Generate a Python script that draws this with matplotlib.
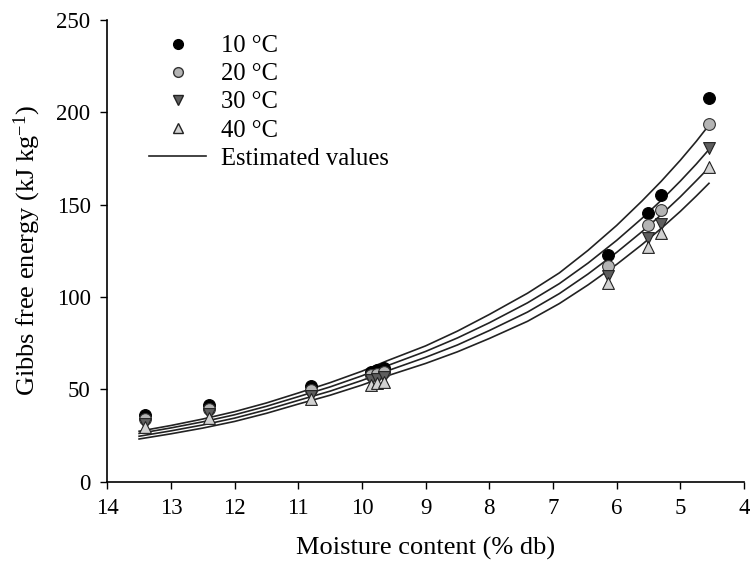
import matplotlib
matplotlib.use("Agg")
import matplotlib.pyplot as plt
from matplotlib.lines import Line2D

plt.rcParams['font.family'] = ['Liberation Serif', 'DejaVu Serif']
plt.rcParams['mathtext.fontset'] = 'custom'
plt.rcParams['mathtext.rm'] = 'Liberation Serif'
plt.rcParams['mathtext.default'] = 'regular'

# Experimental data (moisture content % db, Gibbs free energy kJ/kg)
moisture = [13.4, 12.4, 10.8, 9.86, 9.77, 9.66, 6.14, 5.50, 5.31, 4.55]
g10 = [36.0, 41.4, 52.0, 59.5, 60.4, 61.3, 122.7, 145.6, 155.2, 207.6]
g20 = [34.0, 39.5, 49.5, 57.5, 58.3, 59.3, 116.7, 139.0, 147.0, 193.7]
g30 = [31.0, 36.5, 46.5, 55.0, 55.5, 56.5, 111.3, 131.7, 139.5, 180.5]
g40 = [29.4, 34.5, 45.0, 52.5, 53.3, 54.0, 107.4, 127.2, 134.4, 170.5]

# Estimated (model) curves
m_est = [13.5, 13.0, 12.5, 12.0, 11.5, 11.0, 10.5, 10.0, 9.6, 9.0, 8.5, 8.0, 7.4, 6.9, 6.45, 6.0, 5.6, 5.3, 5.0, 4.75, 4.55]
e10 = [27.3, 30.4, 33.9, 37.9, 42.6, 48.0, 53.6, 59.8, 65.5, 73.5, 81.5, 90.5, 102.0, 113.0, 125.2, 138.7, 152.0, 162.6, 174.0, 184.2, 193.0]
e20 = [26.1, 29.1, 32.4, 36.2, 40.8, 46.0, 51.3, 57.3, 62.8, 70.5, 77.8, 86.0, 96.8, 107.2, 118.3, 130.6, 142.6, 152.3, 162.7, 171.9, 179.8]
e30 = [24.6, 27.5, 30.7, 34.4, 38.9, 44.0, 49.0, 54.8, 60.0, 67.3, 74.0, 81.8, 91.8, 101.8, 112.4, 124.1, 135.4, 144.5, 154.2, 162.9, 170.0]
e40 = [23.1, 25.9, 29.0, 32.6, 37.0, 42.0, 46.8, 52.3, 57.3, 64.0, 70.3, 77.5, 86.8, 96.4, 106.5, 117.6, 128.4, 137.1, 146.3, 154.6, 161.5]

labels = ['10 °C', '20 °C', '30 °C', '40 °C', 'Estimated values']
xticks = [14, 13, 12, 11, 10, 9, 8, 7, 6, 5, 4]
yticks = [0, 50, 100, 150, 200, 250]

fig = plt.figure(figsize=(7.5, 5.66), dpi=100)
ax = fig.add_axes([0.143, 0.149, 0.849, 0.816])

for e in (e10, e20, e30, e40):
    ax.plot(m_est, e, color='#222222', lw=1.2, zorder=2)

ms = 72
ax.scatter(moisture, g10, s=ms, marker='o', facecolor='black', edgecolor='black', lw=0.8, zorder=3)
ax.scatter(moisture, g20, s=ms, marker='o', facecolor='#b4b4b4', edgecolor='#333333', lw=0.8, zorder=3)
ax.scatter(moisture, g30, s=ms, marker='v', facecolor='#5e5e5e', edgecolor='#222222', lw=0.8, zorder=3)
ax.scatter(moisture, g40, s=ms, marker='^', facecolor='#d2d2d2', edgecolor='#222222', lw=0.8, zorder=3)

ax.set_xlim(14, 4)
ax.set_ylim(0, 250)
ax.set_xticks(xticks)
ax.set_yticks(yticks)
ax.spines['top'].set_visible(False)
ax.spines['right'].set_visible(False)
for s in ('left', 'bottom'):
    ax.spines[s].set_linewidth(1.2)
ax.tick_params(direction='out', length=5, width=1, labelsize=16.5, pad=7)
ax.set_xlabel('Moisture content (% db)', fontsize=19, labelpad=13)
ax.set_ylabel('Gibbs free energy (kJ kg$^{-1}$)', fontsize=19, labelpad=10)

handles = [
    Line2D([], [], ls='none', marker='o', ms=7, mfc='black', mec='black'),
    Line2D([], [], ls='none', marker='o', ms=7, mfc='#b4b4b4', mec='#333333'),
    Line2D([], [], ls='none', marker='v', ms=7, mfc='#5e5e5e', mec='#222222'),
    Line2D([], [], ls='none', marker='^', ms=7, mfc='#d2d2d2', mec='#222222'),
    Line2D([], [], color='#222222', lw=1.2),
]
ax.legend(handles, labels, loc='upper left', bbox_to_anchor=(0.066, 0.967),
          frameon=False, fontsize=17.7, handlelength=2.3, handletextpad=0.6,
          labelspacing=0.24, borderpad=0, borderaxespad=0)

fig.savefig('out.png', dpi=100)
